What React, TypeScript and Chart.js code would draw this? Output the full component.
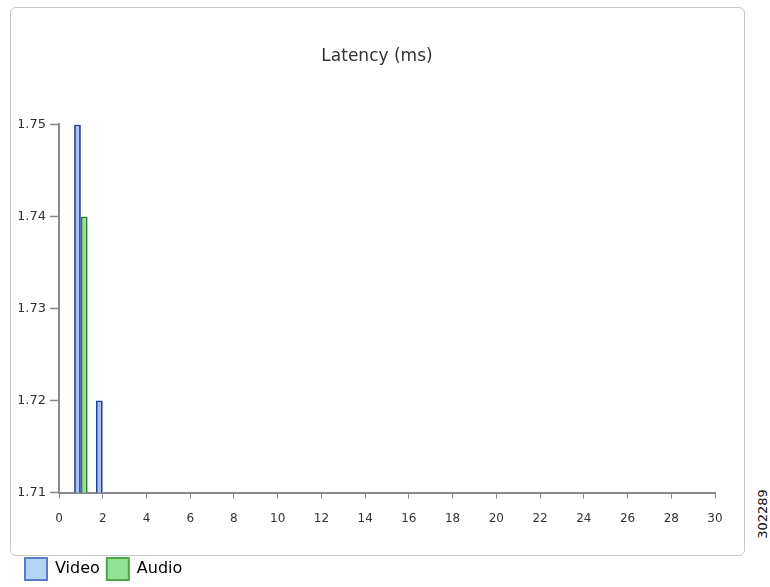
import React, { useEffect, useRef } from "react";
import { Chart, registerables } from "chart.js";

Chart.register(...registerables);

const chartTitle = "Latency (ms)";
const xPositions = [1, 2];
const videoValues = [1.75, 1.72];
const audioValues: (number | null)[] = [1.74, null];
const xTickStep = 2;
const yTickStep = 0.01;
const xRange = [0, 30];
const yRange = [1.71, 1.75];
const sideNote = "302289";

const shiftTitle = {
  id: "shiftTitle",
  afterLayout(chart: any) {
    const t = chart.titleBlock;
    if (t) t.left += 21;
  },
};

export default function App() {
  const ref = useRef<HTMLCanvasElement | null>(null);

  useEffect(() => {
    if (!ref.current) return;
    const chart = new Chart(ref.current, {
      type: "bar",
      data: {
        datasets: [
          {
            label: "Video",
            data: xPositions.map((x, i) => ({ x, y: videoValues[i] })),
            backgroundColor: "#a9c1f2",
            borderColor: "#24409c",
            borderWidth: 1.8,
            categoryPercentage: 0.62,
            barPercentage: 1,
          },
          {
            label: "Audio",
            data: xPositions.map((x, i) => ({ x, y: audioValues[i] as any })),
            backgroundColor: "#92e092",
            borderColor: "#2a862a",
            borderWidth: 1.8,
            categoryPercentage: 0.62,
            barPercentage: 1,
          },
        ],
      },
      plugins: [shiftTitle],
      options: {
        animation: false,
        responsive: false,
        maintainAspectRatio: false,
        layout: { padding: { left: 8, right: 29, top: 0, bottom: 0 } },
        plugins: {
          title: {
            display: true,
            text: chartTitle,
            color: "#333333",
            font: { family: "'DejaVu Sans', sans-serif", size: 17, weight: "normal" },
            padding: { top: 38, bottom: 58 },
          },
          legend: {
            display: true,
            position: "bottom",
            align: "start",
            labels: {
              boxWidth: 22,
              boxHeight: 22,
              padding: 7,
              color: "#222222",
              font: { family: "'DejaVu Sans', sans-serif", size: 16 },
              generateLabels: () => [
                {
                  text: "Video",
                  fillStyle: "#b3d4f2",
                  strokeStyle: "#5a78cc",
                  lineWidth: 2,
                  datasetIndex: 0,
                  hidden: false,
                },
                {
                  text: "Audio",
                  fillStyle: "#94e394",
                  strokeStyle: "#4aa84a",
                  lineWidth: 2,
                  datasetIndex: 1,
                  hidden: false,
                },
              ],
            },
          },
          tooltip: { enabled: false },
        },
        scales: {
          x: {
            type: "linear",
            min: xRange[0],
            max: xRange[1],
            offset: false,
            grid: { offset: false, drawOnChartArea: false, drawTicks: true, tickLength: 6, color: "#8a8a8a", tickWidth: 1 },
            border: { display: true, color: "#8a8a8a", width: 2 },
            afterFit: (s: any) => {
              s.height += 12;
            },
            ticks: {
              stepSize: xTickStep,
              color: "#333333",
              font: { family: "'DejaVu Sans', sans-serif", size: 12 },
              padding: 13,
              maxRotation: 0,
              autoSkip: false,
            },
          },
          y: {
            min: yRange[0],
            max: yRange[1],
            grid: { offset: false, drawOnChartArea: false, drawTicks: true, tickLength: 9, color: "#8a8a8a", tickWidth: 1.5 },
            border: { display: true, color: "#8a8a8a", width: 2 },
            afterFit: (s: any) => {
              s.width = 41;
            },
            ticks: {
              stepSize: yTickStep,
              color: "#333333",
              font: { family: "'DejaVu Sans', sans-serif", size: 13 },
              padding: 4,
              callback: (v: any) => Number(v).toFixed(2),
            },
          },
        },
      },
    });
    return () => chart.destroy();
  }, []);

  return (
    <div style={{ position: "absolute", left: 0, top: 0, width: 770, height: 587, background: "#ffffff", overflow: "hidden" }}>
      <div
        style={{
          position: "absolute",
          left: 10,
          top: 7,
          width: 733,
          height: 547,
          border: "1px solid #c8c8c8",
          borderRadius: 6,
          background: "#ffffff",
        }}
      />
      <canvas
        ref={ref}
        width={734}
        height={582}
        style={{
          position: "absolute",
          left: 10,
          top: 8,
          width: 734,
          height: 582,
          clipPath: "inset(0px 0px 0px 9.5px)",
        }}
      />
      <div
        style={{
          position: "absolute",
          left: 762,
          top: 514,
          transform: "translate(-50%, -50%) rotate(-90deg)",
          fontFamily: "'DejaVu Sans', sans-serif",
          fontSize: 13,
          color: "#111111",
          whiteSpace: "nowrap",
        }}
      >
        {sideNote}
      </div>
    </div>
  );
}
